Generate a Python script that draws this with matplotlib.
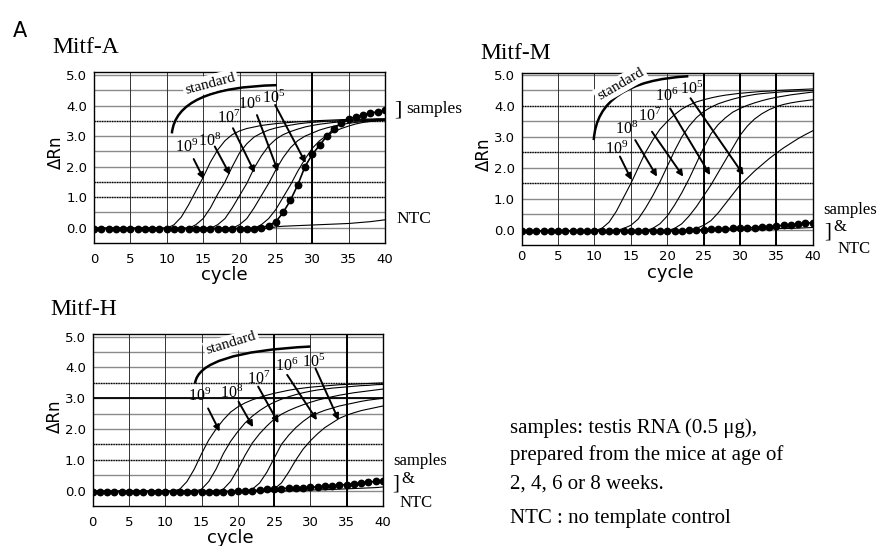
import numpy as np
import matplotlib
matplotlib.use('Agg')
import matplotlib.pyplot as plt
from matplotlib.path import Path
from matplotlib.patches import PathPatch

plt.rcParams['font.family'] = 'DejaVu Sans'
plt.rcParams['mathtext.fontset'] = 'custom'
plt.rcParams['mathtext.rm'] = 'Liberation Serif'
SERIF = 'Liberation Serif'

cycles = list(range(41))
dilutions = ['9', '8', '7', '6', '5']

# ---- Mitf-A : standard curves 10^9 .. 10^5, samples, NTC
a_e9 = [-0.02] * 11 + [0.1, 0.35, 0.75, 1.2, 1.65, 2.15, 2.55, 2.85, 3.05, 3.17, 3.25, 3.3, 3.35, 3.38, 3.41,
                       3.43, 3.45, 3.47, 3.48, 3.5, 3.51, 3.52, 3.53, 3.54, 3.55, 3.55, 3.56, 3.56, 3.57, 3.57]
a_e8 = [-0.02] * 14 + [0.1, 0.3, 0.65, 1.1, 1.5, 2.0, 2.45, 2.75, 2.97, 3.1, 3.2, 3.27, 3.32, 3.36, 3.4, 3.43,
                       3.45, 3.47, 3.49, 3.5, 3.51, 3.52, 3.53, 3.54, 3.54, 3.55, 3.55]
a_e7 = [-0.02] * 17 + [0.1, 0.3, 0.65, 1.05, 1.45, 1.95, 2.35, 2.68, 2.9, 3.05, 3.15, 3.23, 3.3, 3.35, 3.39,
                       3.42, 3.45, 3.47, 3.49, 3.5, 3.51, 3.52, 3.53, 3.54]
a_e6 = [-0.02] * 20 + [0.1, 0.3, 0.65, 1.05, 1.45, 1.9, 2.3, 2.62, 2.85, 3.0, 3.1, 3.2, 3.27, 3.33, 3.38,
                       3.42, 3.45, 3.48, 3.5, 3.52, 3.53]
a_e5 = [-0.02] * 23 + [0.1, 0.3, 0.6, 1.0, 1.4, 1.85, 2.25, 2.6, 2.85, 3.02, 3.15, 3.25, 3.33, 3.4, 3.45,
                       3.48, 3.5, 3.52]
a_samples = [-0.03] * 23 + [0.0, 0.07, 0.2, 0.5, 0.9, 1.4, 2.0, 2.4, 2.7, 3.0, 3.25, 3.43, 3.55, 3.63, 3.7,
                            3.75, 3.8, 3.85]
a_ntc = [-0.02] * 25 + [0.03, 0.05, 0.06, 0.07, 0.08, 0.09, 0.1, 0.11, 0.12, 0.13, 0.14, 0.16, 0.18, 0.2,
                        0.23, 0.26]

# ---- Mitf-M
m_e9 = [-0.02] * 11 + [0.05, 0.25, 0.6, 1.05, 1.5, 2.0, 2.5, 2.9, 3.25, 3.5, 3.72, 3.9, 4.03, 4.13, 4.2,
                       4.26, 4.31, 4.35, 4.38, 4.41, 4.43, 4.45, 4.47, 4.48, 4.5, 4.51, 4.52, 4.53, 4.54, 4.55]
m_e8 = [-0.02] * 14 + [0.05, 0.15, 0.35, 0.7, 1.1, 1.55, 2.05, 2.55, 3.0, 3.35, 3.62, 3.82, 3.96, 4.07, 4.15,
                       4.22, 4.28, 4.33, 4.37, 4.4, 4.42, 4.44, 4.46, 4.47, 4.48, 4.49, 4.5]
m_e7 = [-0.02] * 18 + [0.05, 0.2, 0.45, 0.8, 1.2, 1.65, 2.15, 2.65, 3.1, 3.4, 3.62, 3.8, 3.92, 4.02, 4.1,
                       4.17, 4.23, 4.28, 4.32, 4.36, 4.39, 4.42, 4.45]
m_e6 = [-0.02] * 21 + [0.05, 0.2, 0.45, 0.75, 1.1, 1.45, 1.85, 2.25, 2.65, 3.05, 3.35, 3.58, 3.75, 3.88, 3.98,
                       4.05, 4.1, 4.14, 4.17, 4.2]
m_e5 = [-0.02] * 24 + [0.05, 0.15, 0.3, 0.55, 0.85, 1.15, 1.45, 1.67, 1.9, 2.1, 2.3, 2.48, 2.65, 2.8, 2.95,
                       3.08, 3.2]
m_samples = [-0.03] * 22 + [-0.02, -0.01, 0.0, 0.01, 0.02, 0.03, 0.04, 0.05, 0.06, 0.07, 0.08, 0.1, 0.11,
                            0.13, 0.15, 0.17, 0.19, 0.21, 0.24]
m_ntc = [-0.03] * 25 + [-0.02, -0.01, 0.0, 0.0, 0.01, 0.01, 0.02, 0.02, 0.03, 0.03, 0.04, 0.05, 0.05, 0.06,
                        0.07, 0.08]

# ---- Mitf-H
h_e9 = [-0.02] * 12 + [0.05, 0.3, 0.7, 1.2, 1.65, 2.0, 2.3, 2.55, 2.72, 2.85, 2.95, 3.03, 3.1, 3.16, 3.21,
                       3.26, 3.3, 3.33, 3.36, 3.38, 3.4, 3.42, 3.44, 3.45, 3.46, 3.47, 3.48, 3.49, 3.5]
h_e8 = [-0.02] * 15 + [0.05, 0.3, 0.7, 1.2, 1.6, 1.92, 2.2, 2.42, 2.6, 2.75, 2.87, 2.97, 3.05, 3.12, 3.18,
                       3.23, 3.27, 3.3, 3.33, 3.35, 3.37, 3.39, 3.41, 3.42, 3.44, 3.45]
h_e7 = [-0.02] * 18 + [0.05, 0.3, 0.7, 1.15, 1.55, 1.85, 2.1, 2.32, 2.48, 2.6, 2.7, 2.79, 2.87, 2.94, 3.0,
                       3.05, 3.1, 3.14, 3.18, 3.21, 3.24, 3.27, 3.3]
h_e6 = [-0.02] * 22 + [0.05, 0.25, 0.6, 1.05, 1.5, 1.8, 2.05, 2.25, 2.42, 2.52, 2.61, 2.68, 2.75, 2.8, 2.85,
                       2.9, 2.94, 2.97, 3.0]
h_e5 = [-0.02] * 25 + [0.05, 0.25, 0.6, 1.0, 1.35, 1.62, 1.85, 2.05, 2.2, 2.35, 2.45, 2.53, 2.6, 2.65, 2.7,
                       2.75]
h_samples = [-0.03] * 20 + [-0.02, -0.01, 0.0, 0.02, 0.04, 0.06, 0.07, 0.08, 0.09, 0.1, 0.11, 0.12, 0.14,
                            0.16, 0.18, 0.2, 0.22, 0.25, 0.28, 0.3, 0.33]
h_ntc = [-0.03] * 25 + [-0.02, -0.01, 0.0, 0.0, 0.01, 0.02, 0.03, 0.03, 0.04, 0.05, 0.06, 0.07, 0.08, 0.09,
                        0.1, 0.12]


fig = plt.figure(figsize=(8.82, 5.46), dpi=100)


def draw_panel(rect, ylim, std_curves, samples, ntc, dark_h, dotted_h, dark_v, xpad=7):
    ax = fig.add_axes(rect)
    ax.set_xlim(0, 40)
    ax.set_ylim(*ylim)
    for v in np.arange(0, 5.01, 0.5):
        ax.axhline(v, color='#8a8a8a', lw=1.0, zorder=1)
    for c in range(5, 40, 5):
        ax.axvline(c, color='#333333', lw=0.7, zorder=1)
    for v in dotted_h:
        ax.axhline(v, color='black', lw=0.9, ls=(0, (1, 1)), zorder=1.2)
    for v in dark_h:
        ax.axhline(v, color='black', lw=1.3, zorder=1.2)
    for c in dark_v:
        ax.axvline(c, color='black', lw=1.4, zorder=1.2)

    for ys in std_curves:
        ax.plot(cycles, ys, color='black', lw=0.8, zorder=3)
    ax.plot(cycles, ntc, color='black', lw=0.8, zorder=3)
    ax.plot(cycles, samples, color='black', lw=1.2, marker='o', ms=4.6, zorder=4)

    ax.set_xticks(range(0, 41, 5))
    ax.set_yticks([0, 1, 2, 3, 4, 5])
    ax.set_yticklabels(['0.0', '1.0', '2.0', '3.0', '4.0', '5.0'])
    ax.tick_params(length=0, labelsize=9.5, pad=5)
    ax.tick_params(axis='x', pad=xpad)
    for s in ax.spines.values():
        s.set_linewidth(1.0)
    ax.set_ylabel('ΔRn', fontsize=12)
    ax.set_xlabel('cycle', fontsize=13)
    return ax


def annotate_std(ax, labels, arrows, arc, std_text):
    for d, (x, y) in zip(dilutions, labels):
        ax.text(x, y, '$\\mathrm{10^{%s}}$' % d, fontsize=11.5, ha='left', va='center', zorder=6)
    for tail, head in arrows:
        ax.annotate('', xy=head, xytext=tail, zorder=6,
                    arrowprops=dict(arrowstyle='-|>', color='black', lw=1.4,
                                    mutation_scale=9, shrinkA=0, shrinkB=0))
    path = Path(arc, [Path.MOVETO, Path.CURVE3, Path.CURVE3])
    ax.add_patch(PathPatch(path, fill=False, lw=1.8, color='black', zorder=6))
    x, y, rot = std_text
    ax.text(x, y, 'standard', family=SERIF, fontsize=11, rotation=rot, ha='center', va='center',
            rotation_mode='anchor', zorder=7,
            bbox=dict(boxstyle='square,pad=0.15', fc='white', ec='none'))


# Mitf-A
ax_a = draw_panel([0.1066, 0.5549, 0.3299, 0.3132], (-0.5, 5.1),
                  [a_e9, a_e8, a_e7, a_e6, a_e5], a_samples, a_ntc,
                  dark_h=[], dotted_h=[1.0, 1.5, 3.5], dark_v=[30])
ax_a.yaxis.set_label_coords(-0.10, 0.53)
ax_a.xaxis.set_label_coords(0.447, -0.135)
annotate_std(ax_a,
             [(11.1, 2.65), (14.3, 2.87), (16.9, 3.6), (19.8, 4.08), (23.1, 4.28)],
             [((13.7, 2.25), (15.1, 1.59)), ((16.6, 2.66), (18.7, 1.73)), ((19.1, 3.26), (22.1, 1.8)),
              ((22.4, 3.69), (25.3, 1.84)), ((24.9, 4.02), (29.1, 2.12))],
             [(10.7, 3.09), (11.3, 4.6), (25.1, 4.67)], (16.0, 4.72, 15))
ax_a.text(41.3, 3.85, ']', family=SERIF, fontsize=16, va='center', ha='left', clip_on=False)
ax_a.text(42.9, 3.9, 'samples', family=SERIF, fontsize=12.5, va='center', ha='left', clip_on=False)
ax_a.text(41.6, 0.28, 'NTC', family=SERIF, fontsize=12.5, va='center', ha='left', clip_on=False)

# Mitf-M
ax_m = draw_panel([0.5915, 0.5504, 0.3300, 0.3168], (-0.5, 5.08),
                  [m_e9, m_e8, m_e7, m_e6, m_e5], m_samples, m_ntc,
                  dark_h=[], dotted_h=[1.5, 2.5, 4.0], dark_v=[25, 30, 35], xpad=3)
ax_m.yaxis.set_label_coords(-0.099, 0.53)
ax_m.xaxis.set_label_coords(0.51, -0.105)
annotate_std(ax_m,
             [(11.4, 2.63), (12.8, 3.28), (16.0, 3.71), (18.3, 4.35), (21.8, 4.57)],
             [((13.5, 2.37), (15.1, 1.61)), ((15.6, 2.9), (18.6, 1.72)), ((17.9, 3.17), (22.2, 1.72)),
              ((20.4, 3.92), (25.9, 1.77)), ((23.2, 4.25), (30.5, 1.77))],
             [(9.9, 2.9), (10.4, 4.8), (22.9, 4.96)], (13.6, 4.7, 30))
ax_m.text(41.4, 0.65, 'samples', family=SERIF, fontsize=12, va='center', ha='left', clip_on=False)
ax_m.text(41.6, -0.05, ']', family=SERIF, fontsize=15, va='center', ha='left', clip_on=False)
ax_m.text(42.8, 0.1, '&', family=SERIF, fontsize=12, va='center', ha='left', clip_on=False)
ax_m.text(43.4, -0.62, 'NTC', family=SERIF, fontsize=12, va='center', ha='left', clip_on=False)

# Mitf-H
ax_h = draw_panel([0.1051, 0.0731, 0.3291, 0.3148], (-0.5, 5.08),
                  [h_e9, h_e8, h_e7, h_e6, h_e5], h_samples, h_ntc,
                  dark_h=[3.0], dotted_h=[1.0, 1.5, 3.5], dark_v=[25, 35])
ax_h.yaxis.set_label_coords(-0.098, 0.52)
ax_h.xaxis.set_label_coords(0.473, -0.135)
annotate_std(ax_h,
             [(13.2, 3.08), (17.5, 3.19), (21.2, 3.65), (25.1, 4.08), (28.8, 4.19)],
             [((15.9, 2.67), (17.5, 1.92)), ((20.1, 2.89), (22.1, 2.06)), ((22.8, 3.38), (25.6, 2.19)),
              ((26.8, 3.76), (30.9, 2.29)), ((30.7, 3.97), (33.9, 2.29))],
             [(14.1, 3.48), (14.6, 4.5), (30.0, 4.68)], (19.1, 4.78, 17))
ax_h.text(41.4, 0.97, 'samples', family=SERIF, fontsize=12, va='center', ha='left', clip_on=False)
ax_h.text(41.3, 0.22, ']', family=SERIF, fontsize=15, va='center', ha='left', clip_on=False)
ax_h.text(42.5, 0.38, '&', family=SERIF, fontsize=12, va='center', ha='left', clip_on=False)
ax_h.text(42.3, -0.4, 'NTC', family=SERIF, fontsize=12, va='center', ha='left', clip_on=False)

# titles and panel letter
fig.text(13 / 882, 1 - 37 / 546, 'A', fontsize=15, va='baseline')
fig.text(52 / 882, 1 - 53 / 546, 'Mitf-A', family=SERIF, fontsize=17, va='baseline')
fig.text(480 / 882, 1 - 59 / 546, 'Mitf-M', family=SERIF, fontsize=17, va='baseline')
fig.text(50 / 882, 1 - 315 / 546, 'Mitf-H', family=SERIF, fontsize=17, va='baseline')

# explanatory note
note = ['samples: testis RNA (0.5 \u03bcg),', 'prepared from the mice at age of',
        '2, 4, 6 or 8 weeks.', 'NTC : no template control']
for line, base in zip(note, [433, 460, 489, 523]):
    fig.text(510 / 882, 1 - base / 546, line, family=SERIF, fontsize=15, va='baseline')

fig.savefig('out.png', dpi=100)
